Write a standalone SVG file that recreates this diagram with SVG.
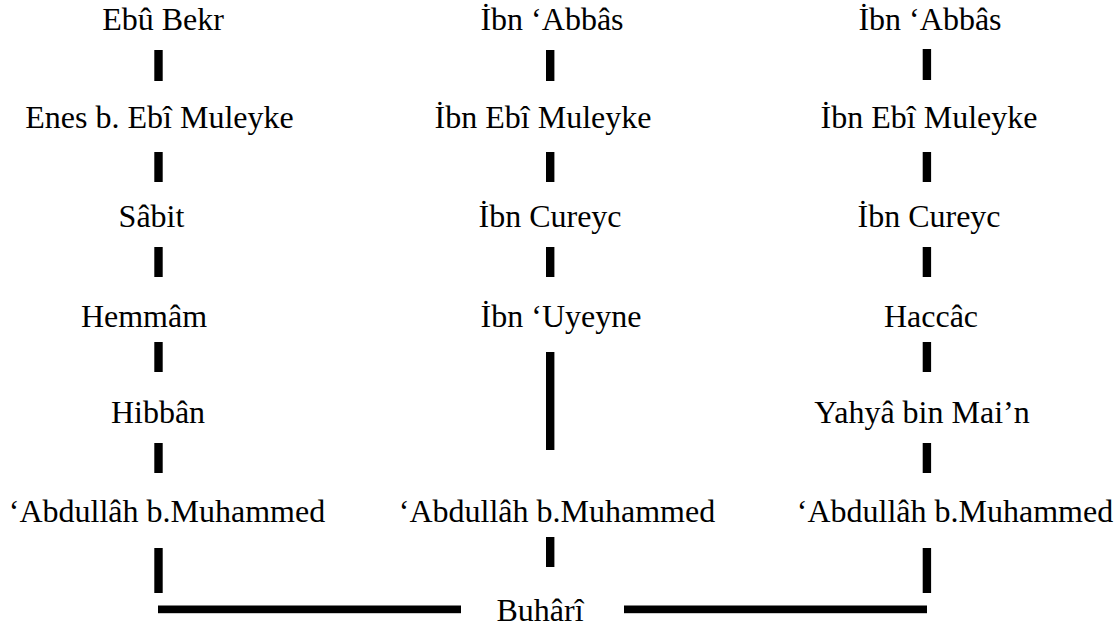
<svg xmlns="http://www.w3.org/2000/svg" width="1120" height="627" viewBox="0 0 1120 627">
<style>
text{font-family:'Liberation Serif','DejaVu Serif',serif;font-size:32px;fill:#000;text-anchor:middle}
.c rect{fill:#000}
</style>
<rect width="1120" height="627" fill="#fff"/>
<g id="left">
<g id="n-l1"><text x="163" y="30">Ebû Bekr</text></g>
<g id="n-l2"><text x="159.5" y="128">Enes b. Ebî Muleyke</text></g>
<g id="n-l3"><text x="151.5" y="227">Sâbit</text></g>
<g id="n-l4"><text x="144" y="327">Hemmâm</text></g>
<g id="n-l5"><text x="158" y="423">Hibbân</text></g>
<g id="n-l6"><text x="167" y="522">‘Abdullâh b.Muhammed</text></g>
</g>
<g id="middle">
<g id="n-m1"><text x="552" y="30">İbn ‘Abbâs</text></g>
<g id="n-m2"><text x="543" y="128">İbn Ebî Muleyke</text></g>
<g id="n-m3"><text x="550" y="227">İbn Cureyc</text></g>
<g id="n-m4"><text x="561" y="327">İbn ‘Uyeyne</text></g>
<g id="n-m5"><text x="557" y="522">‘Abdullâh b.Muhammed</text></g>
</g>
<g id="right">
<g id="n-r1"><text x="930" y="30">İbn ‘Abbâs</text></g>
<g id="n-r2"><text x="929" y="128">İbn Ebî Muleyke</text></g>
<g id="n-r3"><text x="929" y="227">İbn Cureyc</text></g>
<g id="n-r4"><text x="931" y="327">Haccâc</text></g>
<g id="n-r5"><text x="922" y="423">Yahyâ bin Mai’n</text></g>
<g id="n-r6"><text x="955" y="522">‘Abdullâh b.Muhammed</text></g>
</g>
<g id="n-buhari"><text x="540" y="621">Buhârî</text></g>
<g id="connectors" class="c">
<rect x="154.3" y="50" width="8.4" height="31"/>
<rect x="154.3" y="152" width="8.4" height="30"/>
<rect x="154.3" y="247" width="8.4" height="30"/>
<rect x="154.3" y="342" width="8.4" height="30"/>
<rect x="154.3" y="443" width="8.4" height="30"/>
<rect x="154.3" y="548" width="8.4" height="45"/>
<rect x="546" y="50" width="8.4" height="31"/>
<rect x="546" y="152" width="8.4" height="30"/>
<rect x="546" y="247" width="8.4" height="30"/>
<rect x="546" y="352" width="8.4" height="98"/>
<rect x="546" y="537" width="8.4" height="30"/>
<rect x="922.7" y="49" width="8.4" height="31"/>
<rect x="922.7" y="152" width="8.4" height="30"/>
<rect x="922.7" y="247" width="8.4" height="30"/>
<rect x="922.7" y="342" width="8.4" height="30"/>
<rect x="922.7" y="443" width="8.4" height="30"/>
<rect x="922.7" y="548" width="8.4" height="45"/>
<rect x="158" y="605.5" width="303" height="7.7"/>
<rect x="624" y="605.5" width="303" height="7.7"/>
</g>
</svg>
